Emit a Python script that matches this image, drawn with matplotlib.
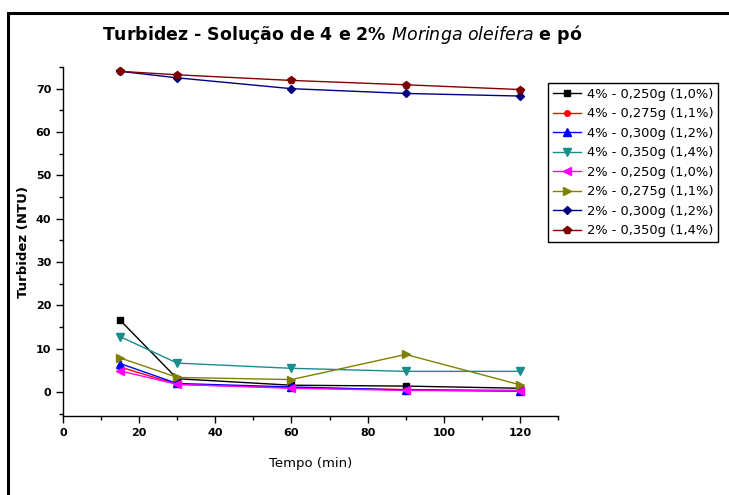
import matplotlib

matplotlib.use("Agg")
import matplotlib.pyplot as plt
from matplotlib.patches import Rectangle
from matplotlib.ticker import MultipleLocator

# --- data --------------------------------------------------------------------
tempo = [15, 30, 60, 90, 120]  # min

labels = [
    "4% - 0,250g (1,0%)",
    "4% - 0,275g (1,1%)",
    "4% - 0,300g (1,2%)",
    "4% - 0,350g (1,4%)",
    "2% - 0,250g (1,0%)",
    "2% - 0,275g (1,1%)",
    "2% - 0,300g (1,2%)",
    "2% - 0,350g (1,4%)",
]
turb_4_250 = [16.6, 3.1, 1.6, 1.4, 0.9]
turb_4_275 = [5.8, 1.8, 1.0, 0.6, 0.4]
turb_4_300 = [6.6, 2.0, 1.2, 0.5, 0.2]
turb_4_350 = [12.8, 6.7, 5.5, 4.8, 4.8]
turb_2_250 = [4.9, 1.8, 0.9, 0.4, 0.3]
turb_2_275 = [7.9, 3.4, 2.9, 8.7, 1.7]
turb_2_300 = [74.0, 72.5, 70.0, 68.9, 68.3]
turb_2_350 = [74.0, 73.2, 71.9, 70.9, 69.8]

series = [turb_4_250, turb_4_275, turb_4_300, turb_4_350,
          turb_2_250, turb_2_275, turb_2_300, turb_2_350]

# Origin-style colours / symbols
colors = ["#000000", "#FF0000", "#0000FF", "#1A8C8C",
          "#FF00FF", "#808000", "#000080", "#800000"]
markers = ["s", "o", "^", "v", "<", ">", "D", "p"]
msizes = [5, 4, 5.5, 6, 6, 6, 4.5, 6]

fig = plt.figure(figsize=(7.29, 4.95), dpi=100)

# outer frame (clipped at the right and bottom in the reference)
fig.patches.append(
    Rectangle((8 / 729, -0.1), 1.2, 1 - 13 / 495 + 0.1, transform=fig.transFigure,
              fill=False, edgecolor="black", lw=2.2, zorder=0)
)

ax = fig.add_axes([63 / 729, 1 - 416 / 495, 495 / 729, 349 / 495])

for y, lab, c, m, ms in zip(series, labels, colors, markers, msizes):
    ax.plot(tempo, y, color=c, marker=m, ms=ms, lw=1.0, label=lab,
            markeredgecolor=c, markerfacecolor=c)

ax.set_xlim(0, 130)
ax.set_ylim(-5.5, 75)
ax.xaxis.set_major_locator(MultipleLocator(20))
ax.xaxis.set_minor_locator(MultipleLocator(10))
ax.yaxis.set_major_locator(MultipleLocator(10))
ax.yaxis.set_minor_locator(MultipleLocator(5))
ax.set_yticks([0, 10, 20, 30, 40, 50, 60, 70])

for side in ("top", "right"):
    ax.spines[side].set_visible(False)
for side in ("left", "bottom"):
    ax.spines[side].set_linewidth(1.0)
ax.tick_params(which="major", direction="out", length=5, width=1.0,
               labelsize=8)
ax.tick_params(which="minor", direction="out", length=3, width=1.0)
for t in ax.get_xticklabels() + ax.get_yticklabels():
    t.set_fontweight("bold")

ax.set_xlabel("Tempo (min)", fontsize=9.5, labelpad=14)
ax.set_ylabel("Turbidez (NTU)", fontsize=9.5, fontweight="bold", labelpad=4)

fig.text(342 / 729, 1 - 35 / 495,
         r"Turbidez - Solução de 4 e 2% $\it{Moringa\ oleifera}$ e pó",
         ha="center", va="center", fontsize=12.5, fontweight="bold")

leg = ax.legend(loc="upper left", bbox_to_anchor=(548 / 729, 1 - 83 / 495),
                bbox_transform=fig.transFigure, fontsize=9.4, frameon=True,
                fancybox=False, edgecolor="black", framealpha=1,
                handlelength=2.2, handletextpad=0.4, labelspacing=0.5,
                borderpad=0.35, borderaxespad=0)
leg.get_frame().set_linewidth(1.0)

fig.savefig("out.png", dpi=100)
